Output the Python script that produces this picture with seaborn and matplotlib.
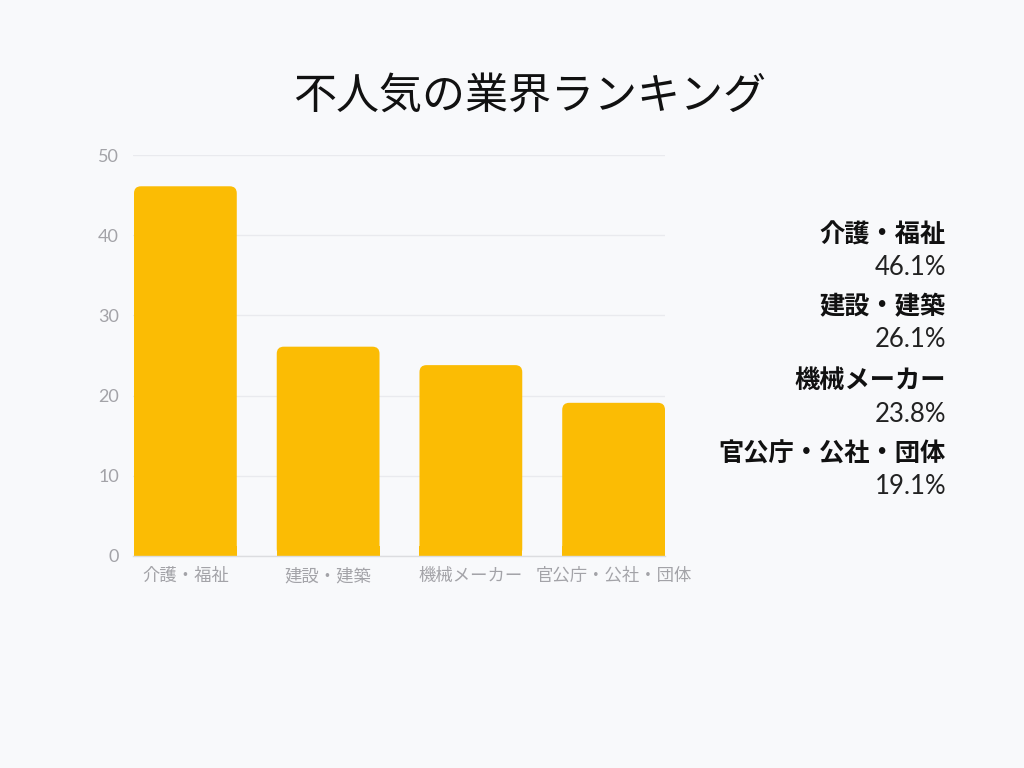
import matplotlib
matplotlib.use("Agg")
import matplotlib.pyplot as plt
import seaborn as sns
import pandas as pd
from matplotlib.patches import FancyBboxPatch, Rectangle

categories = ["介護・福祉", "建設・建築", "機械メーカー", "官公庁・公社・団体"]
values = [46.1, 26.1, 23.8, 19.1]
yticks = [0, 10, 20, 30, 40, 50]
title = "不人気の業界ランキング"

BG = "#f8f9fb"
BAR = "#fbbc04"
GRID = "#e9eaee"
TICK = "#a3a3a8"

sns.set_theme(style="white")
plt.rcParams['font.family'] = ['Noto Sans CJK JP', 'DejaVu Sans']

fig = plt.figure(figsize=(10.24, 7.68), dpi=100, facecolor=BG)
ax = fig.add_axes([133/1024, 1-556/768, (665-133)/1024, (556-155)/768])
ax.set_facecolor(BG)

df = pd.DataFrame({"cat": categories, "val": values})
sns.barplot(data=df, x="cat", y="val", color=BAR, width=0.72, saturation=1, ax=ax, zorder=3)

ax.set_xlim(-0.367, 3.36)
ax.set_ylim(0, 50)
ax.set_yticks(yticks)
ax.set_xlabel("")
ax.set_ylabel("")

# rounded tops, square bottoms
fig.canvas.draw()
xpp = (ax.get_xlim()[1]-ax.get_xlim()[0]) / ax.bbox.width
ypp = (ax.get_ylim()[1]-ax.get_ylim()[0]) / ax.bbox.height
r = 7 * xpp
for p in list(ax.patches):
    x0, w, h = p.get_x(), p.get_width(), p.get_height()
    p.set_visible(False)
    rb = FancyBboxPatch((x0, 0), w, h, boxstyle=f"round,pad=0,rounding_size={r}",
                        mutation_aspect=ypp/xpp, facecolor=BAR, edgecolor="none",
                        linewidth=0, zorder=3)
    ax.add_patch(rb)
    ax.add_patch(Rectangle((x0, 0), w, 10*ypp, facecolor=BAR, edgecolor="none",
                           linewidth=0, zorder=3))

for s in ["top", "right", "left"]:
    ax.spines[s].set_visible(False)
ax.spines["bottom"].set_color("#dcdde0")
ax.spines["bottom"].set_linewidth(1)
ax.spines["bottom"].set_zorder(4)
ax.grid(axis="y", color=GRID, linewidth=1, zorder=0)
ax.tick_params(axis="both", length=0, colors=TICK)
ax.tick_params(axis="y", labelsize=13, pad=10)
ax.tick_params(axis="x", labelsize=12.5, pad=8)
for lab in ax.get_yticklabels():
    lab.set_family(['Lato', 'DejaVu Sans'])

fig.text(530/1024, 1-97/768, title, ha="center", va="center", fontsize=31, color="#111111")

# right-side legend texts
label_y = [235, 307, 381, 454]
for cat, v, yy in zip(categories, values, label_y):
    fig.text(946/1024, 1-yy/768, cat, ha="right", va="center", fontsize=18.2,
             fontweight="bold", color="#111111")
    fig.text(946/1024, 1-(yy+33)/768, f"{v:.1f}%", ha="right", va="center", fontsize=18.5,
             color="#222222", family=['Lato', 'DejaVu Sans'])

fig.savefig("out.png", dpi=100, facecolor=BG)
